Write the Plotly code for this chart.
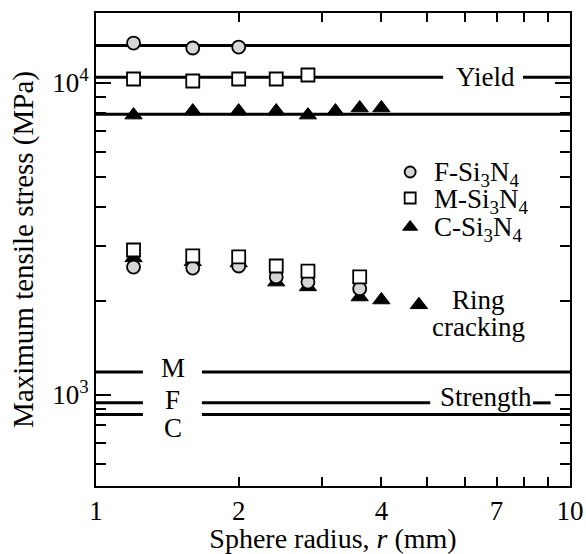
import math
import plotly.graph_objects as go

# Sphere radius (mm) and maximum tensile stress (MPa)
yield_r_F = [1.2, 1.6, 2.0]
yield_s_F = [13430, 12950, 13040]
yield_r_M = [1.2, 1.6, 2.0, 2.4, 2.8]
yield_s_M = [10300, 10150, 10300, 10300, 10610]
yield_r_C = [1.2, 1.6, 2.0, 2.4, 2.8, 3.2, 3.6, 4.0]
yield_s_C = [7890, 8130, 8130, 8130, 7890, 8130, 8315, 8315]

ring_r_F = [1.2, 1.6, 2.0, 2.4, 2.8, 3.6]
ring_s_F = [2570, 2550, 2590, 2390, 2300, 2190]
ring_r_M = [1.2, 1.6, 2.0, 2.4, 2.8, 3.6]
ring_s_M = [2915, 2790, 2770, 2590, 2495, 2390]
ring_r_C = [1.2, 1.6, 2.0, 2.4, 2.8, 3.6, 4.0, 4.8]
ring_s_C = [2750, 2670, 2650, 2300, 2220, 2060, 2015, 1945]

# Reference levels (MPa)
yield_level = {"F": 13200, "M": 10430, "C": 7940}
strength_level = {"M": 1185, "F": 943, "C": 866}

materials = ["F", "M", "C"]
legend_names = ["F-Si<sub>3</sub>N<sub>4</sub>",
                "M-Si<sub>3</sub>N<sub>4</sub>",
                "C-Si<sub>3</sub>N<sub>4</sub>"]

FONT = "Liberation Serif"
BLACK = "#000000"
STYLE = {
    "F": dict(symbol="circle", size=13, color="#d6d6d6", line=dict(color=BLACK, width=1.8)),
    "M": dict(symbol="square", size=13, color="#ffffff", line=dict(color=BLACK, width=1.8)),
    "C": dict(symbol="triangle-up", size=15, color=BLACK, line=dict(color=BLACK, width=1)),
}

fig = go.Figure()


def level_line(segments, value):
    xs, ys = [], []
    for a, b in segments:
        xs += [a, b, None]
        ys += [value, value, None]
    fig.add_trace(go.Scatter(x=xs, y=ys, mode="lines",
                             line=dict(color=BLACK, width=3),
                             showlegend=False, hoverinfo="skip"))


# Yield levels
level_line([(1, 10)], yield_level["F"])
level_line([(1, 5.40), (7.96, 10)], yield_level["M"])
level_line([(1, 10)], yield_level["C"])
# Strength levels
level_line([(1, 1.256), (1.673, 10)], strength_level["M"])
level_line([(1, 1.256), (1.673, 5.07), (8.36, 9.1)], strength_level["F"])
level_line([(1, 1.256), (1.673, 10)], strength_level["C"])

# Data points (triangles underneath, squares on top)
points = {
    "C": (yield_r_C + ring_r_C, yield_s_C + ring_s_C),
    "F": (yield_r_F + ring_r_F, yield_s_F + ring_s_F),
    "M": (yield_r_M + ring_r_M, yield_s_M + ring_s_M),
}
for key in ["C", "F", "M"]:
    xs, ys = points[key]
    fig.add_trace(go.Scatter(x=xs, y=ys, mode="markers", marker=STYLE[key],
                             showlegend=False))

# Key: symbol column and text column inside the plot
key_r = 4.60
key_text_r = 5.12
key_sym_s = [5185, 4280, 3455]
key_txt_s = [5108, 4186, 3404]
for key, name, ks, kt in zip(materials, legend_names, key_sym_s, key_txt_s):
    st = dict(STYLE[key])
    st["size"] = st["size"] - 2
    fig.add_trace(go.Scatter(x=[key_r], y=[ks], mode="markers", marker=st,
                             showlegend=False, hoverinfo="skip"))
    fig.add_annotation(x=math.log10(key_text_r), y=math.log10(kt),
                       xref="x", yref="y", text=name, showarrow=False,
                       xanchor="left", yanchor="middle",
                       font=dict(family=FONT, size=27, color=BLACK))


def label(text, x, y):
    fig.add_annotation(x=math.log10(x), y=math.log10(y), xref="x", yref="y",
                       text=text, showarrow=False,
                       font=dict(family=FONT, size=27, color=BLACK),
                       xanchor="center", yanchor="middle")


label("Yield", 6.62, 10430)
label("Strength", 6.65, 985)
label("Ring", 6.4, 2016)
label("cracking", 6.4, 1652)
label("M", 1.453, 1221)
label("F", 1.453, 964)
label("C", 1.453, 784)

fig.update_layout(
    width=586, height=554,
    margin=dict(l=96, r=16, t=13, b=68),
    paper_bgcolor="white", plot_bgcolor="white",
    font=dict(family=FONT, size=27, color=BLACK),
    showlegend=False,
    xaxis=dict(
        type="log", range=[0, 1], automargin=False,
        tickvals=[1, 2, 4, 7, 10], ticktext=["1", "2", "4", "7", "10"],
        ticks="inside", ticklen=9, tickwidth=1.5, tickcolor=BLACK,
        minor=dict(tickvals=[3, 5, 6, 8, 9], ticks="inside", ticklen=9,
                   tickwidth=1.5, tickcolor=BLACK),
        showline=True, linecolor=BLACK, linewidth=2, mirror="ticks",
        showgrid=False, zeroline=False,
        title=dict(text="Sphere radius, <i>r</i> (mm)", font=dict(size=28), standoff=6),
        tickfont=dict(size=27),
    ),
    yaxis=dict(
        type="log", range=[2.708, 4.2245], automargin=False,
        tickvals=[1000, 10000], ticktext=["10<sup>3</sup>", "10<sup>4</sup>"],
        ticks="inside", ticklen=15, tickwidth=1.5, tickcolor=BLACK,
        minor=dict(tickvals=[600, 700, 800, 900, 2000, 3000, 4000, 5000,
                             6000, 7000, 8000, 9000],
                   ticks="inside", ticklen=10, tickwidth=1.5, tickcolor=BLACK),
        showline=True, linecolor=BLACK, linewidth=2, mirror="ticks",
        showgrid=False, zeroline=False,
        title=dict(text="Maximum tensile stress (MPa)", font=dict(size=29), standoff=10),
        tickfont=dict(size=27),
    ),
)

fig.write_html("out.html")
